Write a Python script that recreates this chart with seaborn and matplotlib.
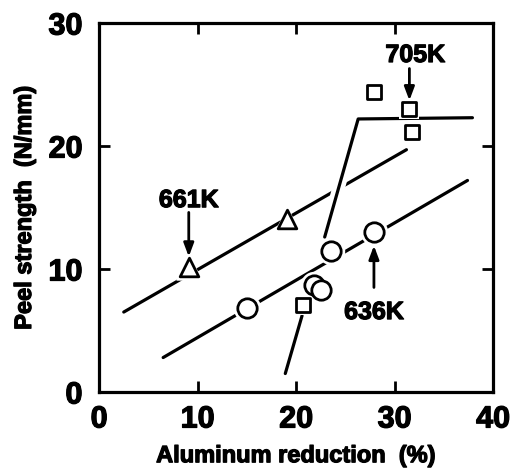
import matplotlib.pyplot as plt
import matplotlib.patheffects as pe
import numpy as np
import pandas as pd
import seaborn as sns

# Measured points
tri_x = [9.1, 19.1]
tri_y = [10.2, 14.1]
circ_x = [15.0, 21.8, 22.5, 23.5, 27.9]
circ_y = [6.8, 8.7, 8.3, 11.5, 13.0]
sq_x = [20.7, 27.9, 31.5, 31.8]
sq_y = [7.1, 24.4, 23.0, 21.1]

# Fitted lines
fit661_x = [2.5, 31.2]
fit661_y = [6.5, 19.7]
fit636_x = [6.5, 37.4]
fit636_y = [2.8, 17.2]
fit705_x = [18.9, 20.6, 22.9, 26.3, 37.9]
fit705_y = [1.5, 6.2, 12.6, 22.2, 22.3]
fit705_seg = [0, 0, 1, 1, 1]

# Labels and arrows
labels = ["661K", "705K", "636K"]
label_x = [9.1, 32.1, 27.9]
label_y = [15.6, 27.4, 6.5]
arrow_x = [9.1, 31.5, 27.9]
arrow_from = [14.6, 26.3, 8.5]
arrow_to = [11.0, 23.7, 11.9]

sns.set_style("ticks")
plt.rcParams['font.family'] = ['Liberation Sans', 'DejaVu Sans']
plt.rcParams['font.weight'] = 'bold'
for k in ["text.color", "axes.labelcolor", "xtick.color", "ytick.color", "axes.edgecolor"]:
    plt.rcParams[k] = "black"

heavy = [pe.withStroke(linewidth=0.9, foreground="black")]

fig = plt.figure(figsize=(5.11, 4.70), dpi=100)
ax = fig.add_axes([0.194, 0.166, 0.771, 0.785])

lw = 2.3
sns.lineplot(x=fit661_x, y=fit661_y, color="black", lw=lw, ax=ax, zorder=2)
sns.lineplot(x=fit636_x, y=fit636_y, color="black", lw=lw, ax=ax, zorder=2)
d705 = pd.DataFrame({"x": fit705_x, "y": fit705_y, "seg": fit705_seg})
sns.lineplot(data=d705, x="x", y="y", units="seg", estimator=None, sort=False,
             color="black", lw=lw, ax=ax, zorder=3,
             path_effects=[pe.Stroke(linewidth=9, foreground="white"), pe.Normal()])

# white halos under markers to break the lines
for xs, ys, m, s in [(tri_x, tri_y, "^", 180), (circ_x, circ_y, "o", 195), (sq_x, sq_y, "s", 110)]:
    ax.scatter(xs, ys, marker=m, s=s * 2.0, color="white", zorder=4, linewidths=0)
    sns.scatterplot(x=xs, y=ys, marker=m, s=s, facecolor="white", edgecolor="black",
                    linewidth=2.0, ax=ax, zorder=5)

for t, lx, ly, axx, a0, a1 in zip(labels, label_x, label_y, arrow_x, arrow_from, arrow_to):
    ax.text(lx, ly, t, ha="center", va="center", fontsize=18, fontweight="bold",
            path_effects=heavy)
    ax.annotate("", xy=(axx, a1), xytext=(axx, a0),
                arrowprops=dict(arrowstyle="-|>,head_length=0.8,head_width=0.3",
                                color="black", lw=2, shrinkA=0, shrinkB=0))

ax.set_xlim(0, 40)
ax.set_ylim(0, 30)
ax.set_xticks([0, 10, 20, 30, 40])
ax.set_yticks([0, 10, 20, 30])
ax.tick_params(direction="in", length=8, width=2, labelsize=22, top=True, right=True)
ax.tick_params(axis="x", pad=9)
ax.tick_params(axis="y", pad=12)
for sp in ax.spines.values():
    sp.set_linewidth(2.3)
    sp.set_visible(True)
for lab in ax.get_xticklabels() + ax.get_yticklabels():
    lab.set_fontweight("bold")
    lab.set_path_effects(heavy)

ax.set_xlabel("Aluminum reduction  (%)", fontsize=17, fontweight="bold", labelpad=7,
              path_effects=heavy)
ax.set_ylabel("Peel strength  (N/mm)", fontsize=17, fontweight="bold", labelpad=9,
              path_effects=heavy)

fig.savefig("out.png", dpi=100)
